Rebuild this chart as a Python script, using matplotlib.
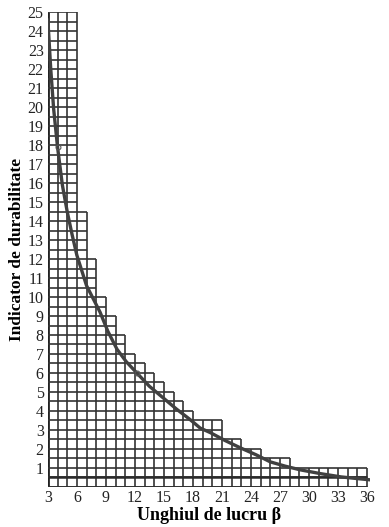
import numpy as np
import matplotlib.pyplot as plt

# staircase grid: left edge of each 1-unit column and the height it reaches
col_left = np.arange(3, 36)
col_height = np.array([25, 25, 25, 14.5, 12, 10, 9, 8, 7, 6.5, 6, 5.5, 5, 4.5, 4,
                       3.5, 3.5, 3.5, 2.5, 2.5, 2, 2, 1.5, 1.5, 1.5,
                       1, 1, 1, 1, 1, 1, 1, 1])

# durability curve
beta = [3.0, 3.3, 3.6, 4.0, 4.5, 5.0, 5.5, 6.0, 6.5, 7.0, 7.7, 8.4, 9.2, 10.15,
        11.1, 12.2, 13.5, 14.9, 16.3, 17.7, 18.75, 19.8, 21.3, 22.9, 24.5, 26.0,
        27.5, 29.1, 31.2, 33.3, 34.8, 36.4]
durab = [24.6, 22.0, 19.9, 17.9, 15.9, 14.5, 13.3, 12.2, 11.4, 10.6, 9.9, 9.2,
         8.2, 7.25, 6.6, 6.0, 5.3, 4.7, 4.1, 3.55, 3.1, 2.86, 2.45, 2.06, 1.7, 1.32,
         1.1, 0.9, 0.7, 0.53, 0.45, 0.37]
marks_x = [4.0, 12.2]
marks_y = [17.9, 6.0]

x_ticks = list(range(3, 37, 3))
y_ticks = list(range(1, 26))

plt.rcParams['font.family'] = ['Liberation Serif', 'DejaVu Serif']

fig = plt.figure(figsize=(3.89, 5.27), dpi=100)
ax = fig.add_axes([0.123, 0.076, 0.828, 0.901])

grid_col = '#333333'

# vertical cell lines
vx = np.arange(3, 37)
left_h = np.concatenate([[col_height[0]], col_height])
right_h = np.concatenate([col_height, [col_height[-1]]])
vh = np.maximum(left_h, right_h)
ax.vlines(vx, 0, vh, color=grid_col, lw=1.2)
ax.vlines(3, 0, 25, color='#222222', lw=2.0)

# horizontal cell lines
levels = np.arange(0, 25.01, 0.5)
for y in levels:
    n = np.sum(col_height >= y - 1e-9)
    ax.hlines(y, 3, 3 + n, color=grid_col, lw=1.2)
ax.hlines([0, 0.5], 3, 36, color='#2a2a2a', lw=1.8)

ax.plot(beta, durab, color='#404040', lw=2.4, solid_capstyle='round', zorder=3)
ax.plot(marks_x, marks_y, 'o', ms=3.5, mfc='none', mec='#555555', mew=0.8, zorder=4)

ax.set_xlim(3, 36.3)
ax.set_ylim(0, 25)
for s in ax.spines.values():
    s.set_visible(False)
ax.set_xticks(x_ticks)
ax.set_yticks(y_ticks)
ax.tick_params(length=0, labelsize=11.5, colors='#222222')
ax.tick_params(axis='y', pad=3)
ax.tick_params(axis='x', pad=2)

ax.set_xlabel('Unghiul de lucru β', fontsize=13, fontweight='bold', labelpad=1)
ax.set_ylabel('Indicator de durabilitate', fontsize=12.5, fontweight='bold', labelpad=2)

fig.savefig('out.png', dpi=100, facecolor='white')
